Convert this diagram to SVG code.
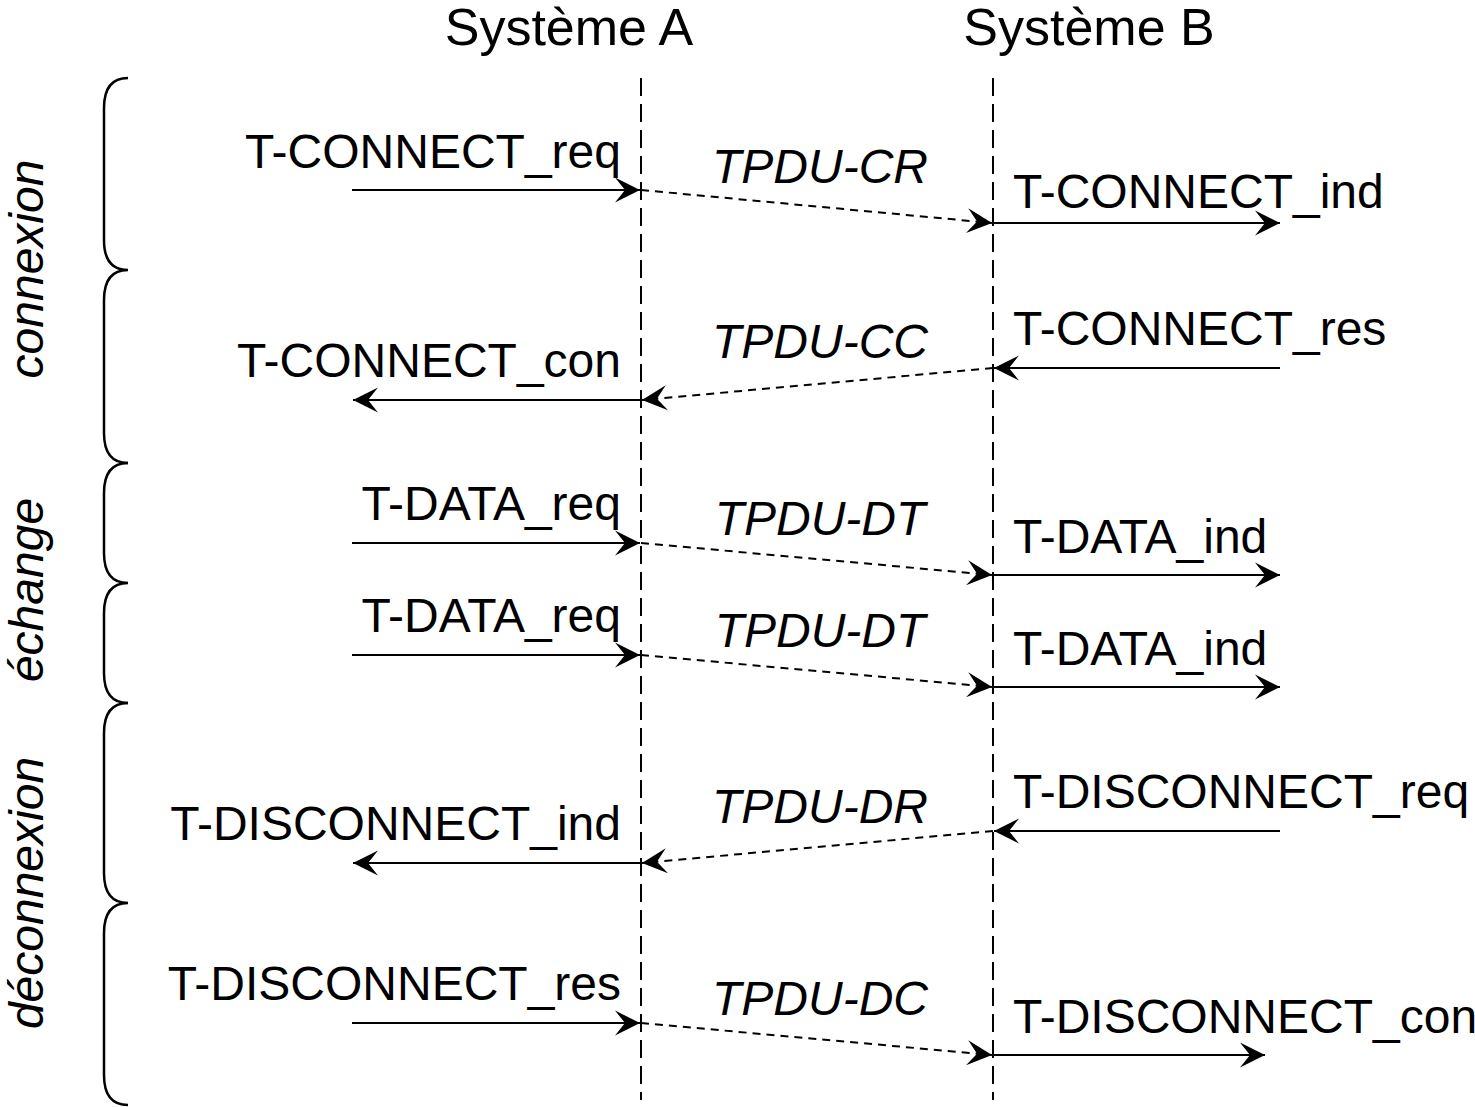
<svg xmlns="http://www.w3.org/2000/svg" width="1475" height="1107" viewBox="0 0 1475 1107">
<style>
text{font-family:"Liberation Sans",Arial,sans-serif;font-size:48px;fill:#000}
.it{font-style:italic}
.title{font-size:52px}
.l{text-anchor:end}
.c{text-anchor:middle}
.life{stroke:#000;stroke-width:2;stroke-dasharray:18 8;fill:none}
.solid{stroke:#000;stroke-width:2;fill:none;marker-end:url(#arr)}
.dash{stroke:#000;stroke-width:2;fill:none;stroke-dasharray:8 6;marker-end:url(#arr)}
.brace{stroke:#000;stroke-width:2.5;fill:none}
</style>
<defs>
<marker id="arr" markerUnits="userSpaceOnUse" markerWidth="26" markerHeight="26" viewBox="0 0 26 26" refX="25" refY="13" orient="auto">
<path d="M25,13 L0,0.5 L10,13 L0,25.5 Z" fill="#000"/>
</marker>
</defs>
<g id="titles">
<text class="title c" x="569" y="45">Système A</text>
<text class="title c" x="1089" y="45">Système B</text>
</g>
<g id="lifelines">
<line class="life" x1="641" y1="78" x2="641" y2="1100"/>
<line class="life" x1="993" y1="78" x2="993" y2="1100"/>
</g>
<g id="braces">
<path class="brace" d="M128,78 C110,78 104,90 104,108 L104,240 C104,258 110,270 128,270 C110,270 104,282 104,300 L104,433 C104,451 110,463 128,463"/>
<path class="brace" d="M128,463 C110,463 104,475 104,493 L104,553 C104,571 110,583 128,583 C110,583 104,595 104,613 L104,673 C104,691 110,703 128,703"/>
<path class="brace" d="M128,703 C110,703 104,715 104,733 L104,873 C104,891 110,903 128,903 C110,903 104,915 104,933 L104,1075 C104,1093 110,1105 128,1105"/>
</g>
<g id="phases">
<text class="it c" transform="translate(43,269) rotate(-90)">connexion</text>
<text class="it c" transform="translate(43,590) rotate(-90)">échange</text>
<text class="it c" transform="translate(43,893) rotate(-90)">déconnexion</text>
</g>
<g id="connectors">
<line class="solid" x1="352" y1="190" x2="640" y2="190"/>
<line class="dash" x1="641" y1="190" x2="992" y2="223"/>
<line class="solid" x1="993" y1="223" x2="1280" y2="223"/>
<line class="solid" x1="1280" y1="368" x2="994" y2="368"/>
<line class="dash" x1="993" y1="368" x2="642" y2="400"/>
<line class="solid" x1="641" y1="400" x2="353" y2="400"/>
<line class="solid" x1="352" y1="543" x2="640" y2="543"/>
<line class="dash" x1="641" y1="543" x2="992" y2="575"/>
<line class="solid" x1="993" y1="575" x2="1280" y2="575"/>
<line class="solid" x1="352" y1="655" x2="640" y2="655"/>
<line class="dash" x1="641" y1="655" x2="992" y2="687"/>
<line class="solid" x1="993" y1="687" x2="1280" y2="687"/>
<line class="solid" x1="1280" y1="831" x2="994" y2="831"/>
<line class="dash" x1="993" y1="831" x2="642" y2="863"/>
<line class="solid" x1="641" y1="863" x2="353" y2="863"/>
<line class="solid" x1="352" y1="1023" x2="640" y2="1023"/>
<line class="dash" x1="641" y1="1023" x2="992" y2="1055"/>
<line class="solid" x1="993" y1="1055" x2="1265" y2="1055"/>
</g>
<g id="labels-a">
<text class="l" x="621" y="168">T-CONNECT_req</text>
<text class="l" x="621" y="377">T-CONNECT_con</text>
<text class="l" x="621" y="520">T-DATA_req</text>
<text class="l" x="621" y="632">T-DATA_req</text>
<text class="l" x="621" y="840">T-DISCONNECT_ind</text>
<text class="l" x="621" y="1000">T-DISCONNECT_res</text>
</g>
<g id="labels-pdu">
<text class="it c" x="820" y="183">TPDU-CR</text>
<text class="it c" x="820" y="358">TPDU-CC</text>
<text class="it c" x="820" y="535">TPDU-DT</text>
<text class="it c" x="820" y="647">TPDU-DT</text>
<text class="it c" x="820" y="823">TPDU-DR</text>
<text class="it c" x="820" y="1015">TPDU-DC</text>
</g>
<g id="labels-b">
<text x="1013" y="208">T-CONNECT_ind</text>
<text x="1013" y="345">T-CONNECT_res</text>
<text x="1013" y="553">T-DATA_ind</text>
<text x="1013" y="665">T-DATA_ind</text>
<text x="1013" y="808">T-DISCONNECT_req</text>
<text x="1013" y="1033">T-DISCONNECT_con</text>
</g>
</svg>
